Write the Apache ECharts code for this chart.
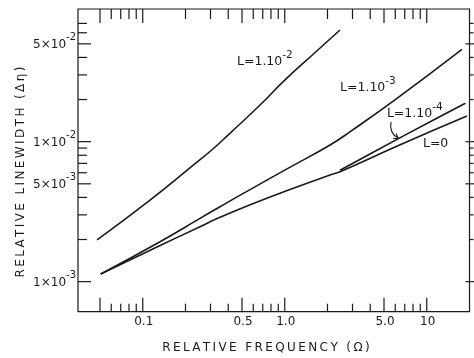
<!DOCTYPE html>
<html>
<head>
<meta charset="utf-8">
<script src="https://cdn.jsdelivr.net/npm/echarts@6/dist/echarts.min.js"></script>
<style>
  html, body { margin: 0; padding: 0; background: #fff; }
  #chart { width: 474px; height: 358px; }
</style>
</head>
<body>
<div id="chart"></div>
<script>
const FONT = 'DejaVu Sans';
const INK = '#1a1a1a';

// axis ranges (log-log)
const X_MIN = 0.035, X_MAX = 20;
const Y_MIN = 6.1e-4, Y_MAX = 0.0887;

// curves: [relative frequency, relative linewidth]
const curveL2 = [[0.0477, 1.99e-3], [0.1125, 3.83e-3], [0.215, 6.5e-3], [0.306, 8.72e-3], [0.411, 0.01148],
  [0.67, 0.01828], [1.0, 0.0275], [1.6, 0.0425], [2.45, 0.0628]];
const curveL3 = [[0.0506, 1.135e-3], [0.1324, 1.93e-3], [0.253, 2.83e-3], [0.35, 3.43e-3], [0.5, 4.22e-3],
  [1.0, 6.26e-3], [2.085, 9.47e-3], [2.89, 0.01179], [6.17, 0.0204], [17.7, 0.0457]];
const curveL4 = [[2.45, 6.25e-3], [6.86, 0.011], [18.7, 0.0188]];
const curveL0 = [[0.0506, 1.135e-3], [0.1324, 1.81e-3], [0.253, 2.47e-3], [0.35, 2.88e-3], [0.747, 3.94e-3],
  [2.085, 5.78e-3], [2.45, 6.1e-3], [6.5, 9.52e-3], [19.2, 0.01526]];

// ticks
const xMajor = [0.05, 0.1, 0.5, 1, 5, 10];
const xMinor = [0.06, 0.07, 0.08, 0.09, 0.2, 0.3, 0.4, 0.6, 0.7, 0.8, 0.9, 2, 3, 4, 6, 7, 8, 9];
const xLabelVals = [0.1, 0.5, 1, 5, 10];
const xLabelText = ['0.1', '0.5', '1.0', '5.0', '10'];
const yMajor = [1e-3, 5e-3, 1e-2, 5e-2];
const yMinor = [2e-3, 3e-3, 4e-3, 6e-3, 7e-3, 8e-3, 9e-3, 2e-2, 3e-2, 4e-2, 6e-2, 7e-2];
const yLabelVals = [5e-2, 1e-2, 5e-3, 1e-3];
const yLabelMant = ['5×10', '1×10', '5×10', '1×10'];
const yLabelExp = ['-2', '-2', '-3', '-3'];

// curve annotations (anchor in data coords = left edge / middle of text)
const noteAt = [[0.461, 0.0371], [2.45, 0.0242], [5.24, 0.0158], [9.4, 9.74e-3]];
const noteMain = ['L=1.10', 'L=1.10', 'L=1.10', 'L=0'];
const noteExp = ['-2', '-3', '-4', ''];

const supRich = (size) => ({
  m: { fontSize: size, fontFamily: FONT, fill: INK, lineHeight: 24 },
  e: { fontSize: size - 2, fontFamily: FONT, fill: INK, lineHeight: 11, verticalAlign: 'top' }
});

const tickLine = (x1, y1, x2, y2) => ({
  type: 'line', shape: { x1, y1, x2, y2 }, style: { stroke: INK, lineWidth: 1.2 }
});

function renderXTick(params, api) {
  const cs = params.coordSys;
  const major = api.value(2);
  const x = api.coord([api.value(0), Y_MIN])[0];
  const bottom = cs.y + cs.height, top = cs.y;
  return {
    type: 'group', children: [
      tickLine(x, bottom, x, bottom - (major ? 14 : 8)),
      tickLine(x, top, x, top + (major ? 14 : 10))
    ]
  };
}

function renderYTick(params, api) {
  const cs = params.coordSys;
  const major = api.value(2);
  const y = api.coord([X_MIN, api.value(1)])[1];
  const left = cs.x, right = cs.x + cs.width;
  return {
    type: 'group', children: [
      tickLine(left, y, left + (major ? 13 : 9), y),
      major ? tickLine(right - 4, y, right + 5, y) : tickLine(right, y, right + 4, y)
    ]
  };
}

function renderXLabel(params, api) {
  const cs = params.coordSys;
  const x = api.coord([api.value(0), Y_MIN])[0];
  return {
    type: 'text', x: x + 1, y: cs.y + cs.height + 10,
    style: { text: xLabelText[api.value(2)], fontSize: 12, fontFamily: FONT, fill: INK, align: 'center', verticalAlign: 'middle' }
  };
}

function renderYLabel(params, api) {
  const cs = params.coordSys;
  const i = api.value(2);
  const y = api.coord([X_MIN, api.value(1)])[1];
  return {
    type: 'text', x: cs.x - 2, y: y + 1,
    style: { text: `{m|${yLabelMant[i]}}{e|${yLabelExp[i]}}`, rich: supRich(12), align: 'right', verticalAlign: 'middle' }
  };
}

function renderNote(params, api) {
  const i = api.value(2);
  const p = api.coord([api.value(0), api.value(1)]);
  const text = noteExp[i] ? `{m|${noteMain[i]}}{e|${noteExp[i]}}` : `{m|${noteMain[i]}}`;
  return {
    type: 'text', x: p[0], y: p[1],
    style: { text, rich: supRich(12.5), align: 'left', verticalAlign: 'middle' }
  };
}

const curve = (data, smooth) => ({
  type: 'line', data, smooth, showSymbol: false, symbol: 'none',
  lineStyle: { color: INK, width: 1.6 }, z: 3
});

const spaced = (s) => s.split('').join('\u2009');

const chart = echarts.init(document.getElementById('chart'), null, { renderer: 'canvas' });
chart.setOption({
  animation: false,
  backgroundColor: '#fff',
  grid: { left: 78, right: 4.5, top: 9, bottom: 46.3, show: true, borderColor: INK, borderWidth: 1.2, backgroundColor: 'transparent' },
  xAxis: {
    type: 'log', logBase: 10, min: X_MIN, max: X_MAX,
    axisLine: { show: false }, axisTick: { show: false }, axisLabel: { show: false }, splitLine: { show: false }
  },
  yAxis: {
    type: 'log', logBase: 10, min: Y_MIN, max: Y_MAX,
    axisLine: { show: false }, axisTick: { show: false }, axisLabel: { show: false }, splitLine: { show: false }
  },
  series: [
    curve(curveL2, 0.5), curve(curveL3, 0.5), curve(curveL4, 0.2), curve(curveL0, 0.5),
    {
      type: 'custom', renderItem: renderXTick, clip: false, silent: true,
      data: xMajor.map(v => [v, Y_MIN, 1]).concat(xMinor.map(v => [v, Y_MIN, 0]))
    },
    {
      type: 'custom', renderItem: renderYTick, clip: false, silent: true,
      data: yMajor.map(v => [X_MIN, v, 1]).concat(yMinor.map(v => [X_MIN, v, 0]))
    },
    {
      type: 'custom', renderItem: renderXLabel, clip: false, silent: true,
      data: xLabelVals.map((v, i) => [v, Y_MIN, i])
    },
    {
      type: 'custom', renderItem: renderYLabel, clip: false, silent: true,
      data: yLabelVals.map((v, i) => [X_MIN, v, i])
    },
    {
      type: 'custom', renderItem: renderNote, clip: false, silent: true,
      data: noteAt.map((p, i) => [p[0], p[1], i])
    }
  ],
  graphic: [
    {
      type: 'text', x: 266, y: 348,
      style: { text: spaced('RELATIVE FREQUENCY (Ω)'), fontSize: 12, fontFamily: FONT, fill: INK, align: 'center', verticalAlign: 'middle' }
    },
    {
      type: 'text', x: 21, y: 172, rotation: Math.PI / 2,
      style: { text: spaced('RELATIVE LINEWIDTH (Δη)'), fontSize: 12, fontFamily: FONT, fill: INK, align: 'center', verticalAlign: 'middle' }
    },
    // little curved arrow from the L=1.10^-4 label to its curve
    {
      type: 'bezierCurve',
      shape: { x1: 391, y1: 122, cpx1: 389, cpy1: 133, x2: 398, y2: 138 },
      style: { stroke: INK, lineWidth: 1.1, fill: null }
    },
    {
      type: 'polyline',
      shape: { points: [[393, 138.5], [398.5, 138.5], [396, 133.5]] },
      style: { stroke: INK, lineWidth: 1.1, fill: null }
    }
  ]
});
</script>
</body>
</html>
